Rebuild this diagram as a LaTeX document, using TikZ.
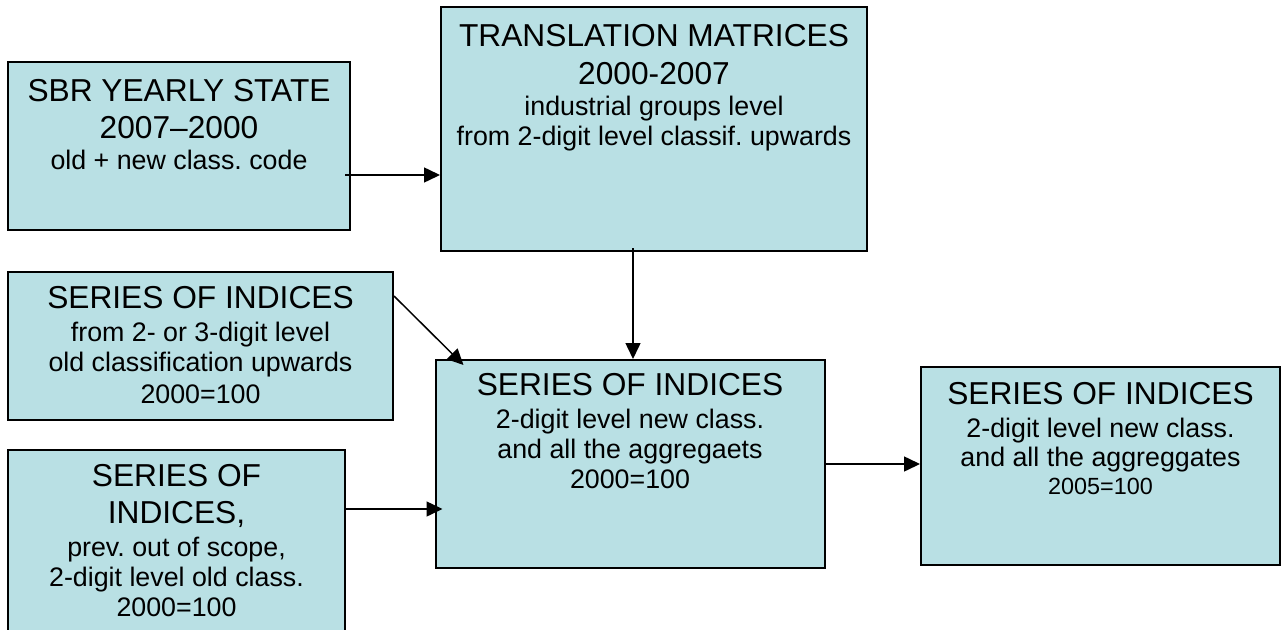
\documentclass[tikz,border=0pt]{standalone}
\usepackage{fontspec}
\setmainfont{Liberation Sans}
\usetikzlibrary{positioning,arrows.meta}

\definecolor{panelblue}{RGB}{185,224,228}
\newcommand{\hd}[1]{{\fontsize{31.7}{30}\selectfont #1}}
\frenchspacing

\begin{document}
\begin{tikzpicture}[x=1pt,y=-1pt,
panel/.style={draw, line width=2pt, fill=panelblue, inner sep=0pt},
txt/.style={inner sep=0pt, align=center, font=\fontsize{26.8}{30}\selectfont},
arr/.style={line width=1.5pt, -{Triangle[length=16pt,width=15pt]}}]

\clip (0,0) rectangle (1284,629);

\node [panel, minimum width=342, minimum height=168] (SBR) at (179,146) {};
\node [panel, minimum width=426, minimum height=244] (TM) at (654,129) {};
\node [panel, minimum width=385, minimum height=148] (SI1) at (200.5,346) {};
\node [panel, minimum width=337, minimum height=210] (SI2) at (176.5,555) {};
\node [panel, minimum width=389, minimum height=208] (SI3) at (630,464) {};
\node [panel, minimum width=359, minimum height=198] (SI4) at (1100.5,466) {};

\node [txt, below=18pt of SBR.north] (SBRtext)
{\hd{SBR YEARLY STATE}\\[7pt]\hd{2007--2000}\\[1pt]old + new class. code};
\node [txt, below=18pt of TM.north] (TMtext)
{\hd{TRANSLATION MATRICES}\\[8pt]\hd{2000-2007}\\[1pt]industrial groups level\\from 2-digit level classif. upwards};
\node [txt, below=15pt of SI1.north] (SI1text)
{\hd{SERIES OF INDICES}\\[3pt]from 2- or 3-digit level\\old classification upwards\\[2pt]2000=100};
\node [txt, below=15pt of SI2.north] (SI2text)
{\hd{SERIES OF}\\[7pt]\hd{INDICES,}\\[3pt]prev. out of scope,\\2-digit level old class.\\2000=100};
\node [txt, below=14pt of SI3.north] (SI3text)
{\hd{SERIES OF INDICES}\\[3pt]2-digit level new class.\\and all the aggregaets\\2000=100};
\node [txt, below=16pt of SI4.north] (SI4text)
{\hd{SERIES OF INDICES}\\[3pt]2-digit level new class.\\[-1pt]and all the aggreggates\\[-2pt]{\fontsize{23.4}{30}\selectfont 2005=100}};

\coordinate (a1) at ([xshift=-6pt,yshift=-29pt]SBR.east);
\coordinate (a2) at ([xshift=-21pt,yshift=4pt]TM.south);
\coordinate (a4) at ([yshift=-60pt]SI2.north east);

\draw [arr] (a1) -- (a1 -| TM.west);
\draw [arr] (a2) -- (a2 |- SI3.north);
\draw [arr] ([yshift=-25pt]SI1.north east) -- ([xshift=29pt,yshift=-6pt]SI3.north west);
\draw [arr] (a4) -- ([xshift=8pt]a4 -| SI3.west);
\draw [arr] (SI3.east) -- (SI3.east -| SI4.west);

\end{tikzpicture}
\end{document}
